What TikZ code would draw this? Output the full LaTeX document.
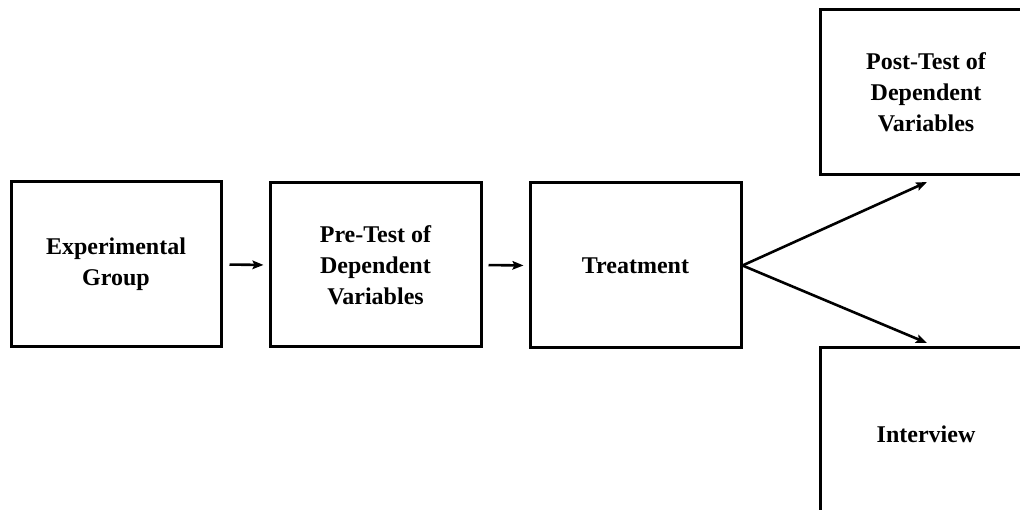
\documentclass[tikz,border=0pt]{standalone}
\usepackage{fontspec}
\setmainfont{Liberation Serif}
\usetikzlibrary{arrows.meta}
\begin{document}
\begin{tikzpicture}[x=1pt,y=-1pt,
  box/.style={draw=black,line width=3pt,align=center,inner sep=0pt,
    font=\fontsize{24}{31}\selectfont\bfseries},
  arr/.style={line width=2.6pt,-{Stealth[length=11pt,width=8.5pt,inset=2pt]}}]
\useasboundingbox (0,0) rectangle (1020,510);
\clip (0,0) rectangle (1020,510);
\node[box,minimum width=210pt,minimum height=165pt] (exp) at (116,264.5) {Experimental\\Group};
\node[box,minimum width=211pt,minimum height=164pt] (pre) at (375.5,265) {Pre-Test of\\Dependent\\Variables};
\node[box,minimum width=211pt,minimum height=165pt] (treat) at (635.5,265.5) {Treatment};
\node[box,minimum width=212pt,minimum height=165pt] (post) at (926,92.5) {Post-Test of\\Dependent\\Variables};
\node[box,minimum width=212pt,minimum height=172pt] (int) at (926,434) {Interview};
\coordinate (tp) at (927,182);
\coordinate (ti) at (927,343);
\draw[arr,shorten <=7pt,shorten >=5pt] (exp.east) -- (pre.west);
\draw[arr,shorten <=6pt,shorten >=5pt] (pre.east) -- (treat.west);
\draw[arr] (treat.east) -- (tp);
\draw[arr] (treat.east) -- (ti);
\end{tikzpicture}
\end{document}
